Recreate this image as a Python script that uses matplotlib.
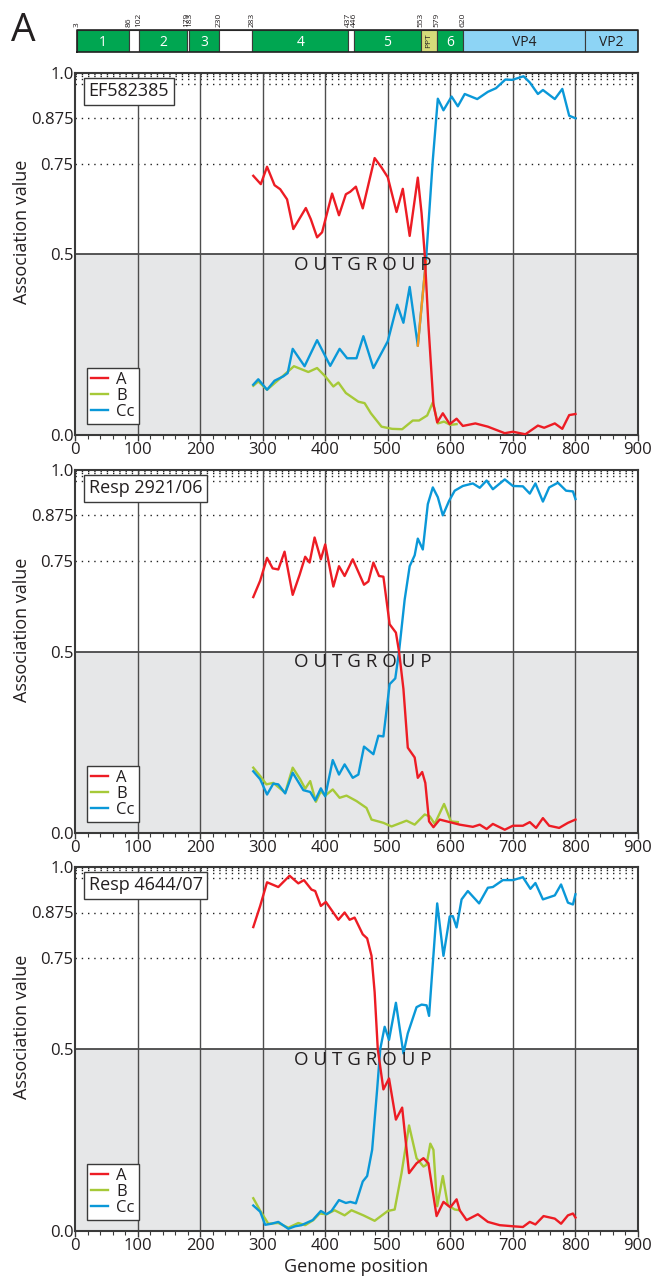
import matplotlib
matplotlib.use('Agg')
import matplotlib.pyplot as plt
from matplotlib.ticker import MultipleLocator

plt.rcParams['font.family'] = ['Open Sans', 'DejaVu Sans']

# --- genome map on top ---
seg_start = [3, 86, 102, 179, 183, 230, 283, 437, 446, 553, 579, 620, 815]
seg_end = [86, 102, 179, 183, 230, 283, 437, 446, 553, 579, 620, 815, 900]
seg_label = ['1', '', '2', '', '3', '', '4', '', '5', 'PPT', '6', 'VP4', 'VP2']
seg_kind = ['g', 'w', 'g', 'w', 'g', 'w', 'g', 'w', 'g', 'p', 'g', 'b', 'b']
pos_marks = [3, 86, 102, 179, 183, 230, 283, 437, 446, 553, 579, 620]

# --- panel 1: EF582385 ---
A1_x = [285, 297, 307, 319, 328, 339, 349, 369, 377, 387, 395, 411, 422, 433, 440, 449, 460,
        479, 490, 500, 514, 524, 535, 548, 554, 559, 565, 573, 579, 588, 599, 610, 620, 640,
        660, 687, 700, 720, 740, 750, 767, 779, 790, 800]
A1_y = [0.716, 0.693, 0.741, 0.690, 0.679, 0.651, 0.569, 0.627, 0.596, 0.546, 0.560, 0.667,
        0.607, 0.665, 0.672, 0.686, 0.626, 0.765, 0.739, 0.712, 0.616, 0.680, 0.550, 0.711,
        0.613, 0.500, 0.303, 0.085, 0.035, 0.060, 0.030, 0.045, 0.025, 0.032, 0.023, 0.005,
        0.009, 0.002, 0.026, 0.020, 0.032, 0.017, 0.055, 0.058]
B1_x = [285, 293, 307, 333, 350, 373, 387, 400, 413, 421, 433, 453, 463, 473, 490, 507, 523,
        540, 550, 563, 572, 580, 590, 600, 610]
B1_y = [0.136, 0.148, 0.125, 0.164, 0.190, 0.174, 0.185, 0.162, 0.134, 0.145, 0.116, 0.092,
        0.088, 0.060, 0.023, 0.017, 0.016, 0.040, 0.040, 0.054, 0.090, 0.032, 0.037, 0.028,
        0.030]
C1_x = [285, 293, 307, 319, 333, 340, 348, 367, 387, 408, 423, 435, 450, 461, 477, 500, 515,
        525, 535, 548, 561, 572, 580, 589, 602, 612, 623, 643, 660, 673, 688, 699, 717, 727,
        740, 748, 767, 779, 790, 800]
C1_y = [0.139, 0.154, 0.125, 0.150, 0.162, 0.171, 0.238, 0.190, 0.262, 0.191, 0.238, 0.212,
        0.212, 0.273, 0.185, 0.259, 0.360, 0.310, 0.409, 0.247, 0.480, 0.760, 0.929, 0.897,
        0.935, 0.908, 0.942, 0.928, 0.948, 0.958, 0.982, 0.981, 0.991, 0.974, 0.942, 0.953,
        0.928, 0.956, 0.882, 0.875]
O1_x = [548, 561]
O1_y = [0.247, 0.480]

# --- panel 2: Resp 2921/06 ---
A2_x = [285, 296, 307, 316, 325, 335, 348, 359, 368, 375, 383, 393, 400, 413, 422, 431, 444,
        462, 469, 477, 486, 493, 503, 513, 518, 525, 532, 543, 548, 555, 560, 566, 573, 583,
        599, 615, 636, 647, 658, 668, 687, 700, 716, 727, 737, 748, 758, 774, 788, 800]
A2_y = [0.650, 0.695, 0.758, 0.729, 0.726, 0.775, 0.656, 0.711, 0.761, 0.745, 0.814, 0.754,
        0.795, 0.679, 0.735, 0.708, 0.754, 0.684, 0.693, 0.745, 0.708, 0.706, 0.575, 0.552,
        0.500, 0.397, 0.235, 0.208, 0.152, 0.168, 0.138, 0.032, 0.016, 0.037, 0.030, 0.023,
        0.017, 0.023, 0.011, 0.025, 0.009, 0.020, 0.020, 0.030, 0.014, 0.041, 0.020, 0.014,
        0.028, 0.037]
B2_x = [285, 296, 306, 317, 336, 348, 360, 368, 376, 385, 393, 400, 412, 423, 434, 450, 466,
        474, 493, 506, 530, 543, 559, 567, 575, 590, 601, 612]
B2_y = [0.180, 0.157, 0.134, 0.138, 0.111, 0.180, 0.148, 0.122, 0.143, 0.086, 0.115, 0.103,
        0.120, 0.097, 0.103, 0.088, 0.069, 0.037, 0.028, 0.018, 0.034, 0.023, 0.051, 0.046,
        0.025, 0.080, 0.032, 0.030]
C2_x = [285, 296, 307, 317, 325, 336, 348, 365, 376, 384, 393, 400, 412, 422, 431, 444, 453,
        462, 477, 485, 493, 503, 512, 518, 527, 535, 543, 548, 556, 564, 572, 580, 588, 598,
        607, 620, 636, 647, 658, 668, 687, 700, 716, 727, 736, 748, 758, 772, 785, 796, 800]
C2_y = [0.170, 0.148, 0.106, 0.136, 0.134, 0.109, 0.166, 0.118, 0.113, 0.090, 0.123, 0.101,
        0.201, 0.161, 0.189, 0.152, 0.161, 0.238, 0.217, 0.268, 0.266, 0.410, 0.426, 0.500,
        0.643, 0.735, 0.765, 0.811, 0.781, 0.906, 0.952, 0.925, 0.875, 0.915, 0.943, 0.956,
        0.963, 0.951, 0.971, 0.947, 0.974, 0.956, 0.955, 0.935, 0.963, 0.913, 0.952, 0.965,
        0.943, 0.941, 0.920]

# --- panel 3: Resp 4644/07 ---
A3_x = [285, 296, 307, 325, 343, 357, 366, 378, 384, 393, 401, 421, 431, 439, 447, 460, 467,
        474, 479, 484, 493, 502, 513, 523, 534, 546, 557, 565, 578, 589, 600, 610, 615, 626,
        644, 660, 679, 700, 716, 727, 736, 749, 767, 777, 788, 796, 800]
A3_y = [0.835, 0.893, 0.958, 0.945, 0.976, 0.955, 0.964, 0.938, 0.934, 0.893, 0.904, 0.855,
        0.875, 0.855, 0.861, 0.815, 0.804, 0.756, 0.656, 0.500, 0.389, 0.419, 0.306, 0.339,
        0.159, 0.186, 0.200, 0.186, 0.041, 0.080, 0.065, 0.087, 0.057, 0.030, 0.046, 0.025,
        0.016, 0.013, 0.011, 0.025, 0.018, 0.041, 0.034, 0.020, 0.043, 0.048, 0.037]
B3_x = [285, 296, 309, 325, 341, 357, 368, 381, 391, 402, 415, 431, 442, 461, 479, 500, 511,
        522, 534, 546, 557, 562, 568, 573, 579, 588, 596, 607, 615]
B3_y = [0.090, 0.056, 0.020, 0.022, 0.009, 0.022, 0.016, 0.030, 0.048, 0.046, 0.057, 0.043,
        0.057, 0.043, 0.028, 0.055, 0.059, 0.159, 0.290, 0.200, 0.177, 0.182, 0.240, 0.223,
        0.068, 0.151, 0.071, 0.059, 0.057]
C3_x = [285, 296, 304, 314, 325, 341, 352, 362, 380, 393, 402, 410, 422, 433, 440, 449, 460,
        467, 475, 483, 488, 495, 502, 513, 525, 532, 546, 554, 562, 566, 571, 579, 589, 599,
        604, 610, 618, 628, 646, 660, 668, 684, 700, 716, 728, 736, 748, 767, 777, 788, 796, 800]
C3_y = [0.070, 0.053, 0.017, 0.020, 0.025, 0.006, 0.013, 0.016, 0.030, 0.055, 0.046, 0.055,
        0.085, 0.077, 0.080, 0.076, 0.136, 0.151, 0.223, 0.389, 0.500, 0.561, 0.525, 0.627,
        0.488, 0.543, 0.615, 0.622, 0.620, 0.591, 0.711, 0.900, 0.756, 0.864, 0.865, 0.834,
        0.911, 0.934, 0.900, 0.943, 0.945, 0.964, 0.964, 0.972, 0.940, 0.956, 0.911, 0.922,
        0.952, 0.902, 0.897, 0.925]

panels = [
    ('EF582385', A1_x, A1_y, B1_x, B1_y, C1_x, C1_y, O1_x, O1_y),
    ('Resp 2921/06', A2_x, A2_y, B2_x, B2_y, C2_x, C2_y, None, None),
    ('Resp 4644/07', A3_x, A3_y, B3_x, B3_y, C3_x, C3_y, None, None),
]

y_ticks = [0.0, 0.5, 0.75, 0.875, 1.0]
y_ticklabels = ['0.0', '0.5', '0.75', '0.875', '1.0']
dotted_levels = [0.75, 0.875, 0.96875, 0.984375, 0.9921875, 0.99609375]

RED = '#ed1c24'
GREEN = '#a6c938'
BLUE = '#0a98d8'
ORANGE = '#f7941d'
TXT = '#231f20'
EDGE = '#3a3a3a'

W, H = 653, 1283
fig = plt.figure(figsize=(W / 100, H / 100), dpi=100)

L = 75 / W
R = 638 / W
panel_px = [(73, 435), (470, 833), (867, 1231)]

# genome bar
axg = fig.add_axes([L, 1 - 52 / H, R - L, 22 / H])
axg.set_xlim(0, 900)
axg.set_ylim(0, 1)
axg.axis('off')
kind_color = {'g': '#00a651', 'w': 'white', 'p': '#d5dc7a', 'b': '#8dd4f5'}
for s, e, lab, k in zip(seg_start, seg_end, seg_label, seg_kind):
    axg.bar(s, 1, width=e - s, bottom=0, align='edge', color=kind_color[k],
            edgecolor=EDGE, linewidth=0.8)
    if lab == 'PPT':
        axg.text((s + e) / 2, 0.5, lab, rotation=90, ha='center', va='center',
                 fontsize=6, color=TXT)
    elif lab:
        col = 'white' if k == 'g' else TXT
        axg.text((s + e) / 2, 0.45, lab, ha='center', va='center', fontsize=10, color=col)
axg.plot([3, 900, 900, 3, 3], [0, 0, 1, 1, 0], color='#222222', lw=1.2, clip_on=False)
for p in pos_marks:
    axg.text(p, 1.12, str(p), rotation=90, ha='center', va='bottom', fontsize=6, color=TXT)

fig.text(11 / W, 1 - 12 / H, 'A', fontsize=28, va='top', ha='left', color=TXT)

for i, (name, ax_, ay_, bx_, by_, cx_, cy_, ox_, oy_) in enumerate(panels):
    top, bot = panel_px[i]
    ax = fig.add_axes([L, 1 - bot / H, R - L, (bot - top) / H])
    ax.set_xlim(0, 900)
    ax.set_ylim(0, 1)
    ax.axhspan(0, 0.5, color='#e6e7e8', zorder=0)
    ax.axhline(0.5, color=EDGE, lw=1.2, zorder=1)
    for lv in dotted_levels:
        ax.axhline(lv, color='#222222', lw=1.0, linestyle=(0, (1, 3.5)), zorder=1)
    for gx in range(100, 900, 100):
        ax.axvline(gx, color='#4d4d4d', lw=1.0, zorder=1)

    ax.plot(bx_, by_, color=GREEN, lw=1.7, zorder=3)
    ax.plot(cx_, cy_, color=BLUE, lw=1.7, zorder=4)
    if ox_ is not None:
        ax.plot(ox_, oy_, color=ORANGE, lw=1.7, zorder=5)
    ax.plot(ax_, ay_, color=RED, lw=1.7, zorder=6)

    # legend proxies
    hA, = ax.plot([], [], color=RED, lw=1.7, label='A')
    hB, = ax.plot([], [], color=GREEN, lw=1.7, label='B')
    hC, = ax.plot([], [], color=BLUE, lw=1.7, label='Cc')
    leg = ax.legend(handles=[hA, hB, hC], loc='lower left', bbox_to_anchor=(0.021, 0.03),
                    frameon=True, fancybox=False, fontsize=12, handlelength=1.0,
                    handletextpad=0.5, borderpad=0.25, labelspacing=0.0,
                    borderaxespad=0.0, framealpha=1.0)
    leg.get_frame().set_edgecolor(EDGE)
    leg.get_frame().set_linewidth(1.0)
    for t in leg.get_texts():
        t.set_color(TXT)

    ax.text(0.024, 0.975, name, transform=ax.transAxes, ha='left', va='top', fontsize=13,
            color=TXT, zorder=10,
            bbox=dict(boxstyle='square,pad=0.25', facecolor='white', edgecolor=EDGE, lw=1.0))
    ax.text(460, 0.47, 'O U T G R O U P', ha='center', va='center', fontsize=13.5,
            color=TXT, zorder=7)

    ax.set_yticks(y_ticks)
    ax.set_yticklabels(y_ticklabels)
    ax.xaxis.set_major_locator(MultipleLocator(100))
    ax.xaxis.set_minor_locator(MultipleLocator(20))
    ax.tick_params(axis='x', which='major', direction='out', length=4, width=1,
                   color=EDGE, labelsize=12, labelcolor=TXT, pad=1)
    ax.tick_params(axis='x', which='minor', direction='out', length=3, width=0.8, color=EDGE)
    ax.tick_params(axis='y', length=0, labelsize=12, labelcolor=TXT, pad=1)
    for sp in ax.spines.values():
        sp.set_color(EDGE)
        sp.set_linewidth(1.5)
    ax.set_ylabel('Association value', fontsize=13, color=TXT)
    ax.yaxis.set_label_coords(-0.078, 0.56)
    if i == 2:
        ax.set_xlabel('Genome position', fontsize=13, color=TXT, labelpad=3)

fig.savefig('out.png', dpi=100)
